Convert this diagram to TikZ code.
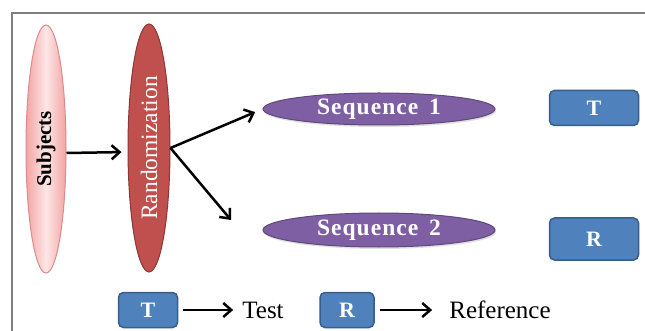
\documentclass[tikz,border=0pt]{standalone}
\usepackage{fontspec}
\setmainfont{Liberation Serif}
\usetikzlibrary{shapes.geometric,arrows.meta,shadows}
\definecolor{frameg}{HTML}{7F7F7F}
\definecolor{pinkA}{HTML}{F4A4A4}
\definecolor{pinkB}{HTML}{FDE6E6}
\definecolor{pinkE}{HTML}{D98C8C}
\definecolor{redF}{HTML}{C0504D}
\definecolor{redE}{HTML}{8C3836}
\definecolor{purF}{HTML}{7F5FA3}
\definecolor{purE}{HTML}{5F497A}
\definecolor{bluF}{HTML}{4F81BD}
\definecolor{bluE}{HTML}{385D8A}
\begin{document}
\begin{tikzpicture}[x=1pt,y=-1pt,
  vell/.style={ellipse,inner sep=0pt,minimum width=248pt,rotate=90,line width=1pt},
  seqell/.style={ellipse,inner sep=0pt,minimum width=232pt,fill=purF,draw=purE,line width=1pt,
     text=white,font=\bfseries\fontsize{23.5}{23.5}\selectfont\addfontfeatures{LetterSpace=4.5},
     drop shadow={opacity=0.25,shadow xshift=1pt,shadow yshift=-2pt}},
  tbox/.style={rounded corners=5pt,fill=bluF,draw=bluE,line width=1.5pt,text=white,
     font=\bfseries\fontsize{22}{22}\selectfont,inner sep=0pt},
  arr/.style={line width=2.5pt,-{Straight Barb[length=8pt,width=14pt,line width=2.5pt]}},
  legtxt/.style={font=\fontsize{25}{25}\selectfont,inner sep=0pt}
]
\useasboundingbox (0,0) rectangle (645,331);
\fill[white] (0,0) rectangle (645,331);
\draw[frameg,line width=1.2pt] (12,331) -- (12,13) -- (645,13);

\node[vell,minimum height=40pt,left color=pinkA,right color=pinkA,middle color=pinkB,draw=pinkE,
  font=\bfseries\fontsize{21}{21}\selectfont] (subj) at (46,149) {Subjects};
\node[vell,minimum height=42pt,fill=redF,draw=redE,text=white,
  font=\fontsize{23.5}{23.5}\selectfont] (rand) at (149,148) {Randomization};

\node[seqell,minimum height=32pt] (seq1) at (379,109) {Sequence\, 1};
\node[seqell,minimum height=34pt] (seq2) at (379,230) {Sequence\, 2};

\node[tbox,minimum width=89pt,minimum height=35pt] (t1) at (594,108) {T};
\node[tbox,minimum width=89pt,minimum height=42pt] (r1) at (594,239) {R};

\node[tbox,minimum width=59pt,minimum height=35pt] (tl) at (148,310) {T};
\node[tbox,minimum width=54pt,minimum height=35pt] (rl) at (347,310) {R};
\node[legtxt] (test) at (263,310) {Test};
\node[legtxt] (ref) at (500,310) {Reference};

\coordinate (a2) at (231,220);
\draw[arr,shorten >=6pt] ([yshift=-4pt]subj.south) -- ([yshift=-4pt]rand.north);
\draw[arr,shorten >=8pt] (rand.south) -- (seq1.west);
\draw[arr] (rand.south) -- (a2);
\draw[arr,shorten <=5pt,shorten >=9pt] (tl.east) -- (test.west);
\draw[arr,shorten <=5pt,shorten >=17pt] (rl.east) -- (ref.west);
\end{tikzpicture}
\end{document}
